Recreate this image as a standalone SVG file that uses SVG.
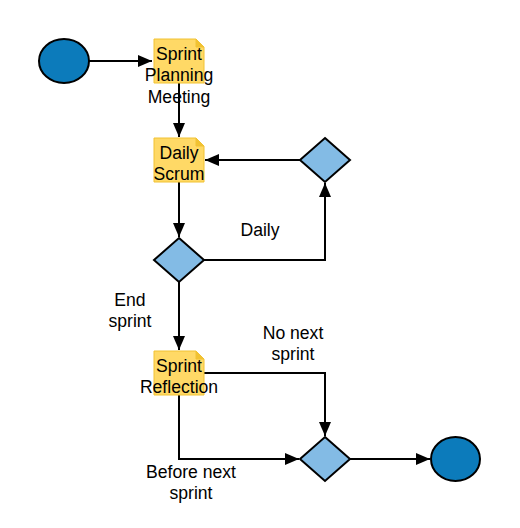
<svg xmlns="http://www.w3.org/2000/svg" width="520" height="528" viewBox="0 0 520 528">
<defs>
<style>
.t{font-family:"Liberation Sans",Arial,sans-serif;font-size:17.6px;fill:#000;text-anchor:middle}
.term{fill:#0c7bbb;stroke:#000;stroke-width:2}
.dec{fill:#83bbe5;stroke:#000;stroke-width:2}
.note{fill:#ffd966;stroke:#f1c232;stroke-width:1}
.fold{fill:#f1c232;stroke:#f1c232;stroke-width:1}
.c{fill:none;stroke:#000;stroke-width:2}
</style>
<marker id="ah" viewBox="0 0 14 12" refX="14" refY="6" markerWidth="14" markerHeight="12" markerUnits="userSpaceOnUse" orient="auto">
<path d="M0,0 L14,6 L0,12 Z" fill="#000"/>
</marker>
</defs>
<rect width="520" height="528" fill="#fff"/>
<g id="connectors">
<path class="c" d="M89,61 H152" marker-end="url(#ah)"/>
<path class="c" d="M179,83 V137" marker-end="url(#ah)"/>
<path class="c" d="M300,160 H205" marker-end="url(#ah)"/>
<path class="c" d="M179,182 V237" marker-end="url(#ah)"/>
<path class="c" d="M204,260 H325 V183" marker-end="url(#ah)"/>
<path class="c" d="M179,282 V350" marker-end="url(#ah)"/>
<path class="c" d="M204,373 H325 V436" marker-end="url(#ah)"/>
<path class="c" d="M179,395 V459 H299" marker-end="url(#ah)"/>
<path class="c" d="M350,459 H430" marker-end="url(#ah)"/>
<text class="t" x="260" y="236">Daily</text>
<text class="t" x="130" y="306">End</text>
<text class="t" x="130" y="327">sprint</text>
<text class="t" x="293" y="339">No next</text>
<text class="t" x="293" y="360">sprint</text>
<text class="t" x="191" y="478">Before next</text>
<text class="t" x="191" y="499">sprint</text>
</g>
<g id="start">
<ellipse class="term" cx="64" cy="61" rx="25" ry="22"/>
</g>
<g id="planning">
<path class="note" d="M154,39 H196 L204,47 V83 H154 Z"/>
<path class="fold" d="M196,39 V47 H204 Z"/>
<text class="t" x="179" y="60">Sprint</text>
<text class="t" x="179" y="81">Planning</text>
<text class="t" x="179" y="103">Meeting</text>
</g>
<g id="daily-scrum">
<path class="note" d="M154,138 H196 L204,146 V182 H154 Z"/>
<path class="fold" d="M196,138 V146 H204 Z"/>
<text class="t" x="179" y="159">Daily</text>
<text class="t" x="179" y="180">Scrum</text>
</g>
<g id="loop-decision">
<path class="dec" d="M325,138 L350,160 L325,182 L300,160 Z"/>
</g>
<g id="daily-decision">
<path class="dec" d="M179,238 L204,260 L179,282 L154,260 Z"/>
</g>
<g id="reflection">
<path class="note" d="M154,351 H196 L204,359 V395 H154 Z"/>
<path class="fold" d="M196,351 V359 H204 Z"/>
<text class="t" x="179" y="372">Sprint</text>
<text class="t" x="179" y="393">Reflection</text>
</g>
<g id="merge-decision">
<path class="dec" d="M325,437 L350,459 L325,481 L300,459 Z"/>
</g>
<g id="end">
<ellipse class="term" cx="455.5" cy="459" rx="24.5" ry="22"/>
</g>
</svg>
